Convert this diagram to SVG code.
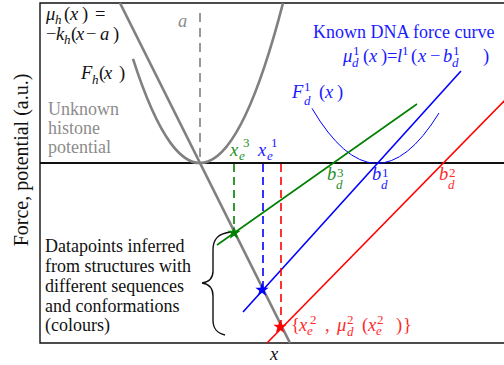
<svg xmlns="http://www.w3.org/2000/svg" width="504" height="365" viewBox="0 0 504 365">
<style>
.t{font-family:"Liberation Serif","Times New Roman",serif;font-size:18px}
.m{font-family:"Liberation Serif","Times New Roman",serif;font-size:18.5px}
.i{font-style:italic}
.s{font-size:13px}
.blk{fill:#111}
.gy{fill:#8c8c8c}
.bl{fill:#1a1aff}
.gn{fill:#1f8f1f}
.rd{fill:#ff2a2a}
.gline{stroke:#808080;stroke-width:2.6;fill:none}
.cl{stroke-width:1.6;fill:none}
</style>
<defs>
<path id="star" d="M0,-7 L1.65,-2.27 L6.66,-2.16 L2.66,0.87 L4.11,5.66 L0,2.8 L-4.11,5.66 L-2.66,0.87 L-6.66,-2.16 L-1.65,-2.27 Z"/>
</defs>
<rect width="504" height="365" fill="#fff"/>
<g id="frame">
<path d="M510,3 H40 V343 H510" fill="none" stroke="#111" stroke-width="1.4"/>
<line x1="40" y1="163" x2="510" y2="163" stroke="#111" stroke-width="2"/>
</g>
<g id="histone">
<line class="gline" x1="120" y1="3" x2="290" y2="343"/>
<path class="gline" d="M133,58.9 Q208,292.1 283,3.2"/>
<line x1="200" y1="13" x2="200" y2="162" stroke="#808080" stroke-width="1.6" stroke-dasharray="9,6"/>
</g>
<g id="connectors">
<path d="M312,108.4 Q375.5,215.9 439,113" fill="none" stroke="blue" stroke-width="1"/>
<line class="cl" stroke="green" x1="217" y1="245" x2="417" y2="104"/>
<line class="cl" stroke="blue" x1="243" y1="312" x2="461" y2="71"/>
<line class="cl" stroke="red" x1="267" y1="343" x2="512" y2="93"/>
<line x1="234" y1="164" x2="234" y2="233" stroke="green" stroke-width="1.6" stroke-dasharray="8,5"/>
<line x1="263" y1="164" x2="263" y2="290" stroke="blue" stroke-width="1.6" stroke-dasharray="8,5"/>
<line x1="281" y1="164" x2="281" y2="327" stroke="red" stroke-width="1.6" stroke-dasharray="8,5"/>
<path d="M230,232 C218,234 213,239 213,250 L213,271 C213,279 209,282 202,283 C209,284 213,288 213,296 L213,320 C213,329 217,333 225,335" fill="none" stroke="#111" stroke-width="1.4"/>
</g>
<g id="stars">
<use href="#star" x="234" y="233" fill="green"/>
<use href="#star" x="262" y="290" fill="blue"/>
<use href="#star" x="280" y="327" fill="red"/>
</g>
<g id="labels-left">
<text class="m blk" y="20"><tspan class="i" x="46">μ</tspan><tspan class="i s" x="55" y="24">h</tspan><tspan x="64" y="20">(</tspan><tspan class="i" x="70">x</tspan><tspan x="82">)</tspan><tspan x="95">=</tspan></text>
<text class="m blk" y="40"><tspan x="46">−</tspan><tspan class="i" x="56">k</tspan><tspan class="i s" x="64" y="44">h</tspan><tspan x="71" y="40">(</tspan><tspan class="i" x="76">x</tspan><tspan x="86">−</tspan><tspan class="i" x="100">a</tspan><tspan x="113">)</tspan></text>
<text class="m blk" y="79"><tspan class="i" x="81">F</tspan><tspan class="i s" x="92" y="84">h</tspan><tspan x="99" y="79">(</tspan><tspan class="i" x="104">x</tspan><tspan x="119">)</tspan></text>
<text class="t gy"><tspan x="48" y="115">Unknown</tspan><tspan x="48" y="134">histone</tspan><tspan x="48" y="153">potential</tspan></text>
<text class="m gy i" x="178" y="27">a</text>
<text class="t blk"><tspan x="45" y="252">Datapoints inferred</tspan><tspan x="45" y="272">from structures with</tspan><tspan x="45" y="292">different sequences</tspan><tspan x="45" y="312">and conformations</tspan><tspan x="45" y="331">(colours)</tspan></text>
<text class="t blk" font-size="20" transform="translate(28,160) rotate(-90)" text-anchor="middle" style="font-size:20px">Force, potential (a.u.)</text>
<text class="m blk i" x="274" y="360" text-anchor="middle">x</text>
</g>
<g id="labels-right">
<text class="t bl" x="313" y="38">Known DNA force curve</text>
<text class="m bl" y="62"><tspan class="i" x="343">μ</tspan><tspan class="i s" x="352" y="67">d</tspan><tspan class="s" x="353" y="55">1</tspan><tspan x="363" y="62">(</tspan><tspan class="i" x="369">x</tspan><tspan x="381">)</tspan><tspan x="387">=</tspan><tspan class="i" x="397">l</tspan><tspan class="s" x="402" y="55">1</tspan><tspan x="411" y="62">(</tspan><tspan class="i" x="418">x</tspan><tspan x="430">−</tspan><tspan class="i" x="443">b</tspan><tspan class="i s" x="452" y="67">d</tspan><tspan class="s" x="453" y="55">1</tspan><tspan x="483" y="62">)</tspan></text>
<text class="m bl" y="98"><tspan class="i" x="292">F</tspan><tspan class="i s" x="304" y="105">d</tspan><tspan class="s" x="304" y="91">1</tspan><tspan x="319" y="98">(</tspan><tspan class="i" x="325">x</tspan><tspan x="337">)</tspan></text>
<text class="m gn" y="156"><tspan class="i" x="230">x</tspan><tspan class="i s" x="239" y="160">e</tspan><tspan class="s" x="243" y="147">3</tspan></text>
<text class="m bl" y="156"><tspan class="i" x="258">x</tspan><tspan class="i s" x="267" y="160">e</tspan><tspan class="s" x="271" y="147">1</tspan></text>
<text class="m gn" y="180"><tspan class="i" x="327">b</tspan><tspan class="i s" x="336" y="189">d</tspan><tspan class="s" x="337" y="177">3</tspan></text>
<text class="m bl" y="180"><tspan class="i" x="372">b</tspan><tspan class="i s" x="381" y="189">d</tspan><tspan class="s" x="382" y="177">1</tspan></text>
<text class="m rd" y="180"><tspan class="i" x="439">b</tspan><tspan class="i s" x="448" y="189">d</tspan><tspan class="s" x="449" y="177">2</tspan></text>
<text class="m rd" y="331"><tspan x="291">{</tspan><tspan class="i" x="299">x</tspan><tspan class="i s" x="307" y="335">e</tspan><tspan class="s" x="310" y="324">2</tspan><tspan x="325" y="331">,</tspan><tspan class="i" x="337">μ</tspan><tspan class="i s" x="347" y="336">d</tspan><tspan class="s" x="347" y="324">2</tspan><tspan x="362" y="331">(</tspan><tspan class="i" x="368">x</tspan><tspan class="i s" x="376" y="335">e</tspan><tspan class="s" x="377" y="324">2</tspan><tspan x="396" y="331">)</tspan><tspan x="403">}</tspan></text>
</g>
</svg>
